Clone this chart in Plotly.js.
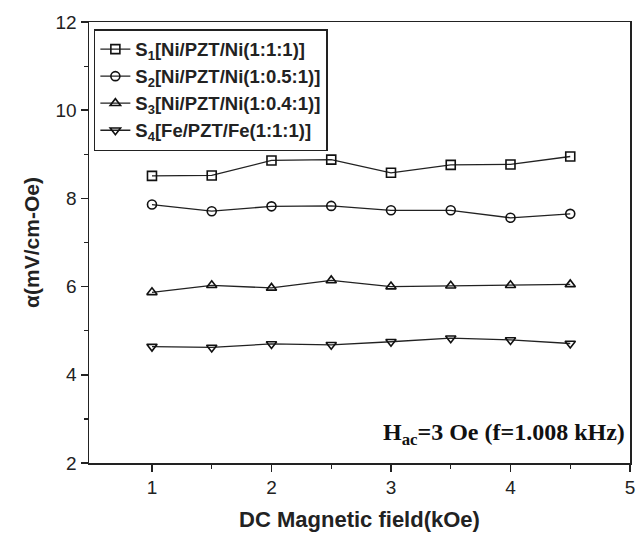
<!DOCTYPE html>
<html>
<head>
<meta charset="utf-8">
<script src="https://cdn.plot.ly/plotly-3.0.1.min.js"></script>
<style>html,body{margin:0;padding:0;background:#fff;}</style>
</head>
<body>
<div id="chart" style="width:637px;height:541px;"></div>
<script>
const fieldKOe = [1, 1.5, 2, 2.5, 3, 3.5, 4, 4.5];
const s1 = [8.51, 8.52, 8.86, 8.88, 8.58, 8.76, 8.77, 8.95];
const s2 = [7.86, 7.71, 7.82, 7.83, 7.73, 7.73, 7.56, 7.65];
const s3 = [5.87, 6.03, 5.97, 6.14, 6.00, 6.02, 6.03, 6.05];
const s4 = [4.64, 4.62, 4.70, 4.68, 4.75, 4.83, 4.79, 4.71];
const seriesNames = [
  '<b>S<sub>1</sub>[Ni/PZT/Ni(1:1:1)]</b>',
  '<b>S<sub>2</sub>[Ni/PZT/Ni(1:0.5:1)]</b>',
  '<b>S<sub>3</sub>[Ni/PZT/Ni(1:0.4:1)]</b>',
  '<b>S<sub>4</sub>[Fe/PZT/Fe(1:1:1)]</b>'
];
const seriesValues = [s1, s2, s3, s4];
const symbols = ['square-open', 'circle-open', 'triangle-up-open', 'triangle-down-open'];

const traces = seriesValues.map((vals, i) => ({
  x: fieldKOe,
  y: vals,
  name: seriesNames[i],
  type: 'scatter',
  mode: 'lines+markers',
  line: {color: '#222', width: 1.3},
  marker: {symbol: symbols[i], size: 9, color: '#111', line: {width: 1.6, color: '#111'}}
}));

const axisFont = {family: 'Arial, Liberation Sans, sans-serif', size: 19, color: '#222'};

const layout = {
  width: 637, height: 541,
  margin: {l: 89, r: 7, t: 22, b: 78},
  paper_bgcolor: '#fff', plot_bgcolor: '#fff',
  showlegend: true,
  legend: {
    x: 0.009, y: 0.984, xanchor: 'left', yanchor: 'top',
    bordercolor: '#222', borderwidth: 1.5, bgcolor: 'rgba(255,255,255,0)',
    font: {family: 'Arial, Liberation Sans, sans-serif', size: 18.5, color: '#222'},
    tracegroupgap: 0, itemwidth: 30
  },
  xaxis: {
    range: [0.473, 5], tickvals: [1, 2, 3, 4, 5], ticktext: ['1','2','3','4','5'],
    ticks: 'outside', ticklen: 7, tickwidth: 1.5, tickcolor: '#222',
    minor: {tickvals: [1.5, 2.5, 3.5, 4.5], ticks: 'outside', ticklen: 4, tickwidth: 1.2, tickcolor: '#222'},
    showline: true, linecolor: '#222', linewidth: 1.5, mirror: true,
    showgrid: false, zeroline: false, tickfont: axisFont,
    title: {text: '<b>DC Magnetic field(kOe)</b>', font: {family: 'Arial, Liberation Sans, sans-serif', size: 22, color: '#222'}, standoff: 14}
  },
  yaxis: {
    range: [2, 12], tickvals: [2, 4, 6, 8, 10, 12],
    ticks: 'outside', ticklen: 7, tickwidth: 1.5, tickcolor: '#222',
    minor: {tickvals: [3, 5, 7, 9, 11], ticks: 'outside', ticklen: 4, tickwidth: 1.2, tickcolor: '#222'},
    showline: true, linecolor: '#222', linewidth: 1.5, mirror: true,
    showgrid: false, zeroline: false, tickfont: axisFont,
    title: {text: '<b>α(mV/cm-Oe)</b>', font: {family: 'Arial, Liberation Sans, sans-serif', size: 21, color: '#222'}, standoff: 10}
  },
  annotations: [{
    xref: 'paper', yref: 'paper', x: 0.995, y: 0.065, xanchor: 'right', yanchor: 'middle',
    showarrow: false,
    text: '<b>H<sub>ac</sub>=3 Oe (f=1.008 kHz)</b>',
    font: {family: 'Liberation Serif, Times New Roman, serif', size: 24, color: '#111'}
  }]
};

Plotly.newPlot('chart', traces, layout, {displayModeBar: false, staticPlot: true});
</script>
</body>
</html>
